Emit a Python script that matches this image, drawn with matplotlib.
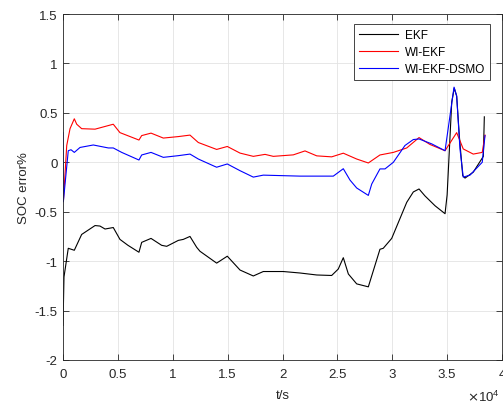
import matplotlib
matplotlib.use("Agg")
import matplotlib.pyplot as plt
import numpy as np

# SOC estimation error of three observers
t_ekf = [0, 90, 480, 1030, 1700, 2920, 3370, 3830, 4580, 5190, 5920, 6920, 7170,
         8020, 8990, 9450, 10510, 10960, 11570, 12180, 12480, 14000, 14970, 16130,
         17340, 18250, 20070, 21600, 23120, 24480, 25080, 25540, 26000, 26760,
         27820, 28880, 29180, 29950, 31320, 31920, 32440, 32980, 33900, 34810,
         35000, 35420, 35650, 35870, 36110, 36420, 36630, 37380, 38300, 38390]
ekf = [-1.65, -1.16, -0.87, -0.89, -0.73, -0.64, -0.645, -0.675, -0.66, -0.78,
       -0.84, -0.91, -0.81, -0.77, -0.84, -0.85, -0.79, -0.78, -0.75, -0.86,
       -0.90, -1.02, -0.95, -1.09, -1.15, -1.105, -1.105, -1.12, -1.14, -1.145,
       -1.08, -0.965, -1.13, -1.23, -1.26, -0.88, -0.87, -0.77, -0.405, -0.30,
       -0.27, -0.34, -0.44, -0.52, -0.33, 0.61, 0.75, 0.67, 0.27, -0.135, -0.16,
       -0.10, 0.06, 0.46]

t_wi = [0, 40, 340, 640, 1030, 1250, 1700, 2920, 4580, 5190, 6920, 7170, 8020,
        9140, 10510, 11570, 12330, 14000, 14970, 16130, 17340, 18410, 19160,
        20980, 22050, 23120, 24480, 25540, 26760, 27820, 28880, 30100, 31320,
        32440, 33440, 34810, 35870, 36470, 37380, 38200, 38450]
wi_ekf = [-0.30, -0.39, 0.17, 0.34, 0.44, 0.385, 0.34, 0.335, 0.385, 0.30, 0.225,
          0.27, 0.295, 0.245, 0.26, 0.275, 0.20, 0.13, 0.16, 0.093, 0.06, 0.08,
          0.06, 0.075, 0.115, 0.065, 0.055, 0.092, 0.033, -0.007, 0.074, 0.10,
          0.145, 0.25, 0.18, 0.117, 0.30, 0.135, 0.083, 0.10, 0.275]

t_dsmo = [0, 30, 480, 730, 1030, 1550, 2760, 4130, 4580, 5350, 6920, 7170, 8020,
          9140, 10510, 11570, 12330, 13790, 14000, 14970, 16130, 17340, 18250,
          21600, 24630, 25540, 26150, 26760, 27820, 28130, 28880, 29340, 30100,
          31160, 31920, 32440, 33600, 34810, 35260, 35630, 35870, 36170, 36470,
          37080, 38200, 38450]
wi_ekf_dsmo = [0.30, -0.40, 0.117, 0.127, 0.10, 0.15, 0.175, 0.145, 0.145, 0.10,
               0.023, 0.074, 0.10, 0.05, 0.067, 0.083, 0.033, -0.04, -0.05,
               -0.017, -0.085, -0.15, -0.13, -0.14, -0.14, -0.065, -0.18, -0.26,
               -0.335, -0.22, -0.067, -0.067, 0.0, 0.17, 0.23, 0.236, 0.186,
               0.117, 0.47, 0.76, 0.67, 0.135, -0.15, -0.13, 0.0, 0.27]

x_ticks = [0, 0.5, 1, 1.5, 2, 2.5, 3, 3.5, 4]
y_ticks = [-2, -1.5, -1, -0.5, 0, 0.5, 1, 1.5]

plt.rcParams['font.family'] = ['Liberation Sans', 'DejaVu Sans']
txt = '#262626'

fig = plt.figure(figsize=(5.03, 4.06), dpi=100)
ax = fig.add_axes([63 / 503, 45 / 406, 439 / 503, 346 / 406])

ax.plot(np.array(t_ekf) / 1e4, ekf, color='k', lw=0.8, label='EKF')
ax.plot(np.array(t_wi) / 1e4, wi_ekf, color='#ff0000', lw=0.8, label='WI-EKF')
ax.plot(np.array(t_dsmo) / 1e4, wi_ekf_dsmo, color='#0000ff', lw=0.8, label='WI-EKF-DSMO')

ax.set_xlim(0, 4)
ax.set_ylim(-2, 1.5)
ax.set_xticks(x_ticks)
ax.set_yticks(y_ticks)
ax.set_xticklabels([f'{v:g}' for v in x_ticks])
ax.set_yticklabels([f'{v:g}' for v in y_ticks])
ax.tick_params(direction='in', length=4, width=0.6, top=True, right=True,
               labelsize=9.5, colors=txt)
ax.tick_params(axis='x', pad=6)
ax.tick_params(axis='y', pad=4)
ax.grid(True, color='#e3e3e3', lw=0.6)
ax.set_axisbelow(True)
for s in ax.spines.values():
    s.set_color(txt)
    s.set_linewidth(0.6)

ax.set_xlabel('t/s', fontsize=9.5, color=txt, labelpad=6)
ax.set_ylabel('SOC error%', fontsize=9.5, color=txt, labelpad=3)
fig.text(500 / 503, 4 / 406, r'$\times\mathregular{10^{4}}$', ha='right',
         va='baseline', fontsize=9.5, color=txt)

leg = ax.legend(loc='upper right', bbox_to_anchor=(427 / 439, 336 / 346),
                borderaxespad=0, fontsize=8.5, fancybox=False, handlelength=3.3,
                labelspacing=0.45, handletextpad=0.6, borderpad=0.4)
leg.get_frame().set_edgecolor(txt)
leg.get_frame().set_linewidth(0.6)
leg.get_frame().set_alpha(1)

fig.savefig('out.png', dpi=100)
